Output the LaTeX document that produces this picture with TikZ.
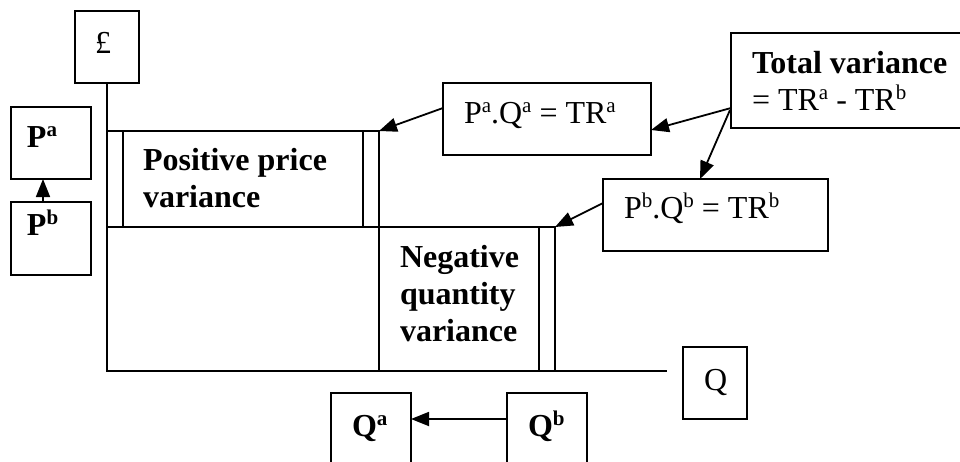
\documentclass[tikz,border=0pt]{standalone}
\usepackage{fontspec}
\setmainfont{Liberation Serif}
\usetikzlibrary{arrows.meta,calc}
\newcommand{\sups}[1]{\raisebox{0.34em}{\fontsize{21}{21}\selectfont #1}}
\begin{document}
\begin{tikzpicture}[x=1pt,y=-1pt,line width=1.8pt,
  box/.style={draw,rectangle,inner sep=0pt,outer sep=0pt,anchor=north west},
  txt/.style={inner sep=0pt,outer sep=0pt,anchor=base west,font=\fontsize{32}{37.5}\selectfont},
  btxt/.style={txt,font=\fontsize{32}{37.5}\selectfont\bfseries},
  arr/.style={-{Triangle[length=18pt,width=14pt]}}]
\useasboundingbox (0,0) rectangle (960,461);
% boxes
\node[box,minimum width=64pt,minimum height=72pt] (pound) at (75,11) {};
\node[box,minimum width=80pt,minimum height=72pt] (Pa) at (11,107) {};
\node[box,minimum width=80pt,minimum height=73pt] (Pb) at (11,202) {};
\node[box,minimum width=208pt,minimum height=72pt] (PQa) at (443,83) {};
\node[box,minimum width=240pt,minimum height=95pt] (TV) at (731,33) {};
\node[box,minimum width=225pt,minimum height=72pt] (PQb) at (603,179) {};
\node[box,minimum width=64pt,minimum height=72pt] (Qaxis) at (683,347) {};
\node[box,minimum width=80pt,minimum height=76pt] (Qa) at (331,393) {};
\node[box,minimum width=80pt,minimum height=76pt] (Qb) at (507,393) {};
% texts
\node[txt] (tpound) at (95,53) {£};
\node[btxt] (tPa) at (27,147) {P\sups{a}};
\node[btxt] (tPb) at (27,235) {P\sups{b}};
\node[txt] (tPQa) at (464,123) {P\sups{a}.Q\sups{a} = TR\sups{a}};
\node[txt] (tPQb) at (624,218) {P\sups{b}.Q\sups{b} = TR\sups{b}};
\node[txt] (tTV) at (752,73) {\begin{tabular}[t]{@{}l@{}}\bfseries Total variance\\= TR\sups{a} - TR\sups{b}\end{tabular}};
\node[btxt] (tPos) at (143,170) {\begin{tabular}[t]{@{}l@{}}Positive price\\variance\end{tabular}};
\node[btxt,font=\fontsize{32}{37}\selectfont\bfseries] (tNeg) at (400,267) {\begin{tabular}[t]{@{}l@{}}Negative\\quantity\\variance\end{tabular}};
\node[txt] (tQ) at (704,390) {Q};
\node[btxt] (tQa) at (352,436) {Q\sups{a}};
\node[btxt] (tQb) at (528,436) {Q\sups{b}};
% chart
\coordinate (o) at (107,371);
\coordinate (cornerP) at (379,131);
\coordinate (cornerN) at (555,227);
\draw (pound.south) -- (o) -- (667,371);
\draw (107,131) -- (cornerP) -- (379,371);
\draw (107,227) -- (cornerN) -- (555,371);
\draw (123,131) -- (123,227);
\draw (363,131) -- (363,227);
\draw (539,227) -- (539,371);
% arrows
\draw[arr] ($(Pb.north west)+(32,0)$) -- ($(Pa.south west)+(32,0)$);
\draw[arr] ($(PQa.north west)+(0,25)$) -- (cornerP);
\draw[arr] ($(TV.north west)+(0,75)$) -- ($(PQa.north east)+(0,47)$);
\draw[arr] ($(TV.north west)+(-1,77)$) -- ($(PQb.north west)+(97,0)$);
\draw[arr] ($(PQb.north west)+(0,24)$) -- (cornerN);
\draw[arr] ($(Qb.north west)+(0,26)$) -- ($(Qa.north east)+(0,26)$);
\end{tikzpicture}
\end{document}
